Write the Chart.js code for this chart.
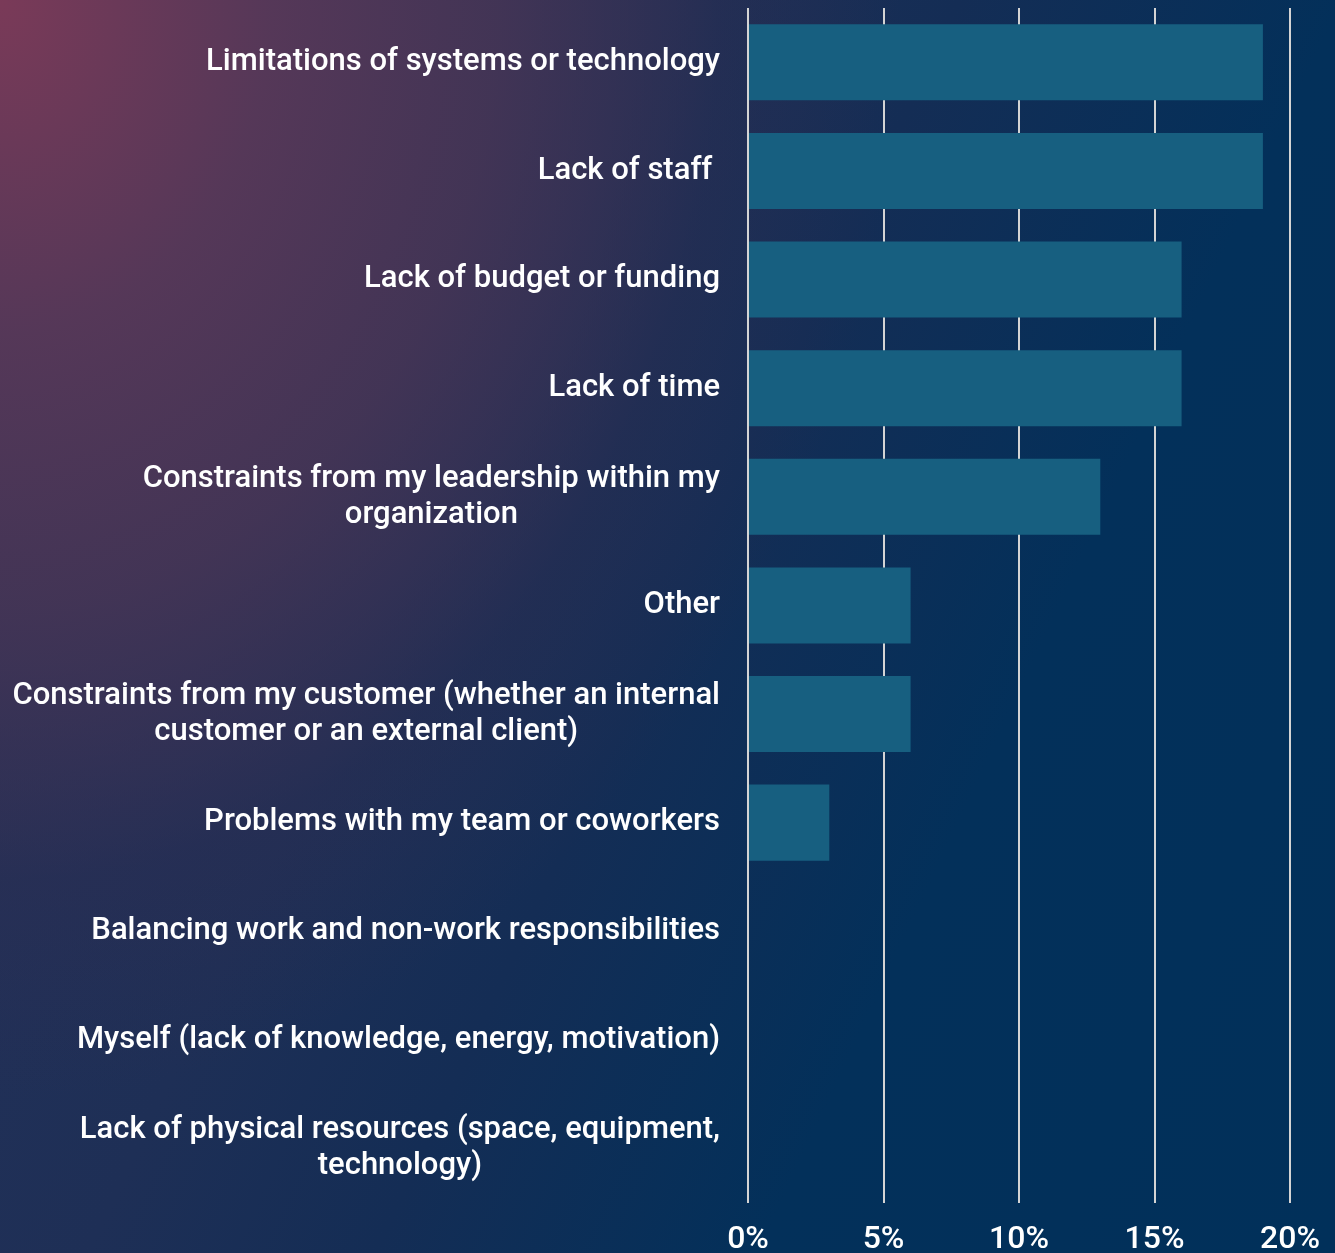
<!DOCTYPE html>
<html>
<head>
<meta charset="utf-8">
<script src="https://cdn.jsdelivr.net/npm/chart.js@4"></script>
<style>
html, body { margin: 0; padding: 0; }
body {
	width: 1335px; height: 1253px; overflow: hidden;
	background:
		radial-gradient(ellipse 900px 1100px at 0 0, rgba(122,58,88,1) 0%, rgba(88,56,88,0.95) 30%, rgba(72,53,85,0.85) 55%, rgba(50,45,80,0.35) 80%, rgba(50,45,80,0) 100%),
		linear-gradient(115deg, #26325a 0%, #1e2f56 35%, #142d55 50%, #03305a 70%, #01305a 100%);
}
canvas { display: block; }
</style>
</head>
<body>
<canvas id="barriers_Chart" width="1335" height="1253"></canvas>
<script>
// categories (multi-line labels as arrays)
const categories = [
	['Limitations of systems or technology'],
	['Lack of staff '],
	['Lack of budget or funding'],
	['Lack of time'],
	['Constraints from my leadership within my', 'organization'],
	['Other'],
	['Constraints from my customer (whether an internal', 'customer or an external client)'],
	['Problems with my team or coworkers'],
	['Balancing work and non-work responsibilities'],
	['Myself (lack of knowledge, energy, motivation)'],
	['Lack of physical resources (space, equipment,', 'technology)']
];
// percent of respondents
const values = [19, 19, 16, 16, 13, 6, 6, 3, 0, 0, 0];
const xTicks = [0, 5, 10, 15, 20];

const labelFont = '500 31px Roboto';

// draw category labels right-aligned left of the plot, lines centered on each other
const categoryLabels = {
	id: 'categoryLabels',
	afterDraw(chart) {
		const ctx = chart.ctx;
		const y = chart.scales.y;
		const right = chart.chartArea.left - 28;
		ctx.save();
		ctx.font = labelFont;
		ctx.fillStyle = '#ffffff';
		ctx.textAlign = 'center';
		ctx.textBaseline = 'middle';
		const lh = 36;
		categories.forEach(function(lines, i) {
			let maxW = 0;
			lines.forEach(function(l) { maxW = Math.max(maxW, ctx.measureText(l).width); });
			const cx = right - maxW / 2;
			const cy = y.getPixelForValue(i) - (lines.length - 1) * lh / 2;
			lines.forEach(function(l, k) {
				ctx.fillText(l, cx, cy + k * lh);
			});
		});
		ctx.restore();
	}
};

var context = document.getElementById('barriers_Chart').getContext('2d');
var barriers_Chart = new Chart(context, {
	type: 'bar',
	data: {
		labels: categories.map(function(c) { return c.join(' '); }),
		datasets: [{
			data: values,
			backgroundColor: '#175f80',
			borderWidth: 0,
			categoryPercentage: 0.7,
			barPercentage: 1.0
		}]
	},
	options: {
		indexAxis: 'y',
		responsive: false,
		animation: false,
		devicePixelRatio: 1,
		layout: { padding: { left: 748, right: 45, top: 8, bottom: -25 } },
		plugins: { legend: { display: false }, tooltip: { enabled: false } },
		scales: {
			y: { display: false },
			x: {
				min: 0, max: 20,
				afterBuildTicks: function(axis) { axis.ticks = xTicks.map(function(v) { return { value: v }; }); },
				afterFit: function(axis) { axis.paddingLeft = 0; axis.paddingRight = 0; },
				grid: { color: '#d4d4d4', lineWidth: 2, drawTicks: false },
				border: { display: false },
				ticks: {
					color: '#ffffff',
					font: { family: 'Roboto', size: 32, weight: '500', lineHeight: 1.1 },
					padding: 20,
					callback: function(v) { return v + '%'; }
				}
			}
		}
	},
	plugins: [categoryLabels]
});
</script>
</body>
</html>
